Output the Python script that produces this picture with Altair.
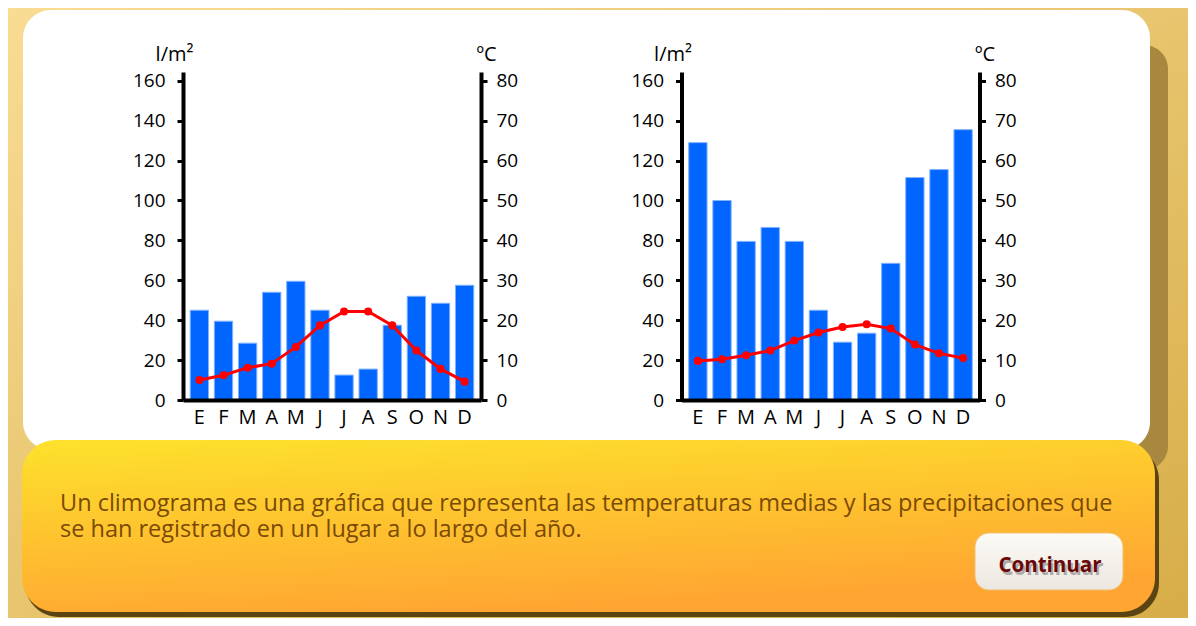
import altair as alt
import pandas as pd

meses = ["Enero", "Febrero", "Marzo", "Abril", "Mayo", "Junio", "Julio",
         "Agosto", "Septiembre", "Octubre", "Noviembre", "Diciembre"]

prec_1 = [45, 39.5, 28.5, 54, 59.5, 45, 12.5, 15.5, 37.5, 52, 48.5, 57.5]
temp_1 = [5, 6.2, 8.1, 9.1, 13.3, 18.7, 22.2, 22.2, 18.7, 12.4, 7.8, 4.6]

prec_2 = [129, 100, 79.5, 86.5, 79.5, 45, 29, 33.5, 68.5, 111.5, 115.5, 135.5]
temp_2 = [9.8, 10.2, 11.2, 12.4, 14.9, 16.9, 18.3, 19, 17.9, 13.9, 11.7, 10.5]

prec_ticks = [0, 20, 40, 60, 80, 100, 120, 140, 160]
temp_ticks = [0, 10, 20, 30, 40, 50, 60, 70, 80]

caption = ["Un climograma es una gráfica que representa las temperaturas medias y las precipitaciones que",
           "se han registrado en un lugar a lo largo del año."]
button_text = "Continuar"

FONT = "Open Sans"
W, H = 298, 328


def climograma(prec, temp):
    df = pd.DataFrame({"mes": meses, "prec": prec, "temp": temp})
    x = alt.X("mes:N", sort=meses,
              scale=alt.Scale(paddingInner=0.24, paddingOuter=0.3),
              axis=alt.Axis(title=None, labelAngle=0, ticks=False, tickSize=0,
                            labelExpr="substring(datum.label, 0, 1)",
                            labelPadding=7, labelFontSize=20, zindex=1))
    bars = alt.Chart(df).mark_bar(color="#0066ff", stroke="#80b3ff", strokeWidth=1).encode(
        x=x,
        y=alt.Y("prec:Q", scale=alt.Scale(domain=[0, 164.4], nice=False),
                axis=alt.Axis(orient="left", values=prec_ticks, title="l/m²",
                              titleAngle=0, titleX=-9, titleY=-12, titleAlign="center",
                              titleBaseline="alphabetic", labelPadding=12, zindex=1)),
    )
    line = alt.Chart(df).mark_line(
        color="#ff0000", strokeWidth=3,
        point=alt.OverlayMarkDef(color="#ff0000", size=65, filled=True, opacity=1),
    ).encode(
        x=x,
        y=alt.Y("temp:Q", scale=alt.Scale(domain=[0, 82.2], nice=False),
                axis=alt.Axis(orient="right", values=temp_ticks, title="ºC",
                              titleAngle=0, titleX=5, titleY=-12, titleAlign="center",
                              titleBaseline="alphabetic", labelPadding=9, zindex=1)),
    )
    return bars, line


dummy = pd.DataFrame({"k": [0]})


def deco_rect(x1, x2, y1, y2, **kw):
    return alt.Chart(dummy).mark_rect(**kw).encode(
        x=alt.value(x1), x2=alt.value(x2), y=alt.value(y1), y2=alt.value(y2))


bg = deco_rect(-175, 1005, -64, 546, fill=alt.LinearGradient(
    gradient="linear", x1=0, y1=0, x2=1, y2=1,
    stops=[alt.GradientStop(offset=0, color="#f9dc93"),
           alt.GradientStop(offset=1, color="#d6ad48")]))
shadow_strip = deco_rect(937, 985, -27, 398, fill="#a8883f", cornerRadius=26)
white_panel = deco_rect(-160, 967, -62, 378, fill="#ffffff", cornerRadius=28)
yellow_shadow = deco_rect(-158, 976, 374, 545, fill="#5a4512", cornerRadius=34)
yellow_box = deco_rect(-161, 972, 368, 540, cornerRadius=34, fill=alt.LinearGradient(
    gradient="linear", x1=0, y1=0, x2=0.35, y2=1,
    stops=[alt.GradientStop(offset=0, color="#fde22c"),
           alt.GradientStop(offset=1, color="#ffa632")]))
caption_text = alt.Chart(dummy).mark_text(
    align="left", baseline="alphabetic", font=FONT, fontSize=23.5,
    color="#7a4a05", lineHeight=26).encode(
    x=alt.value(-123), y=alt.value(439), text=alt.value(caption))
button = deco_rect(792, 940, 461, 518, cornerRadius=14, stroke="#efc070", strokeWidth=1,
                   fill=alt.LinearGradient(
                       gradient="linear", x1=0, y1=0, x2=0, y2=1,
                       stops=[alt.GradientStop(offset=0, color="#fdfbf7"),
                              alt.GradientStop(offset=1, color="#ece7df")]))
button_shadow = alt.Chart(dummy).mark_text(
    align="center", baseline="alphabetic", font=FONT, fontSize=20.5, fontWeight="bold",
    color="#9a9a9a", opacity=0.8).encode(
    x=alt.value(869), y=alt.value(503), text=alt.value(button_text))
button_label = alt.Chart(dummy).mark_text(
    align="center", baseline="alphabetic", font=FONT, fontSize=20.5, fontWeight="bold",
    color="#6a0808").encode(
    x=alt.value(867), y=alt.value(500), text=alt.value(button_text))

b1, l1 = climograma(prec_1, temp_1)
b2, l2 = climograma(prec_2, temp_2)

left = alt.layer(bg, shadow_strip, white_panel, yellow_shadow, yellow_box,
                 caption_text, button, button_shadow, button_label, b1, l1
                 ).resolve_scale(y="independent").properties(width=W, height=H)
right = alt.layer(b2, l2).resolve_scale(y="independent").properties(width=W, height=H)

chart = alt.hconcat(left, right, spacing=200.5, bounds="flush").properties(
    padding=0
).configure_view(strokeWidth=0).configure_axis(
    grid=False, domainColor="#000000", domainWidth=4, tickColor="#000000",
    tickWidth=3, tickSize=6, labelFont=FONT, labelFontSize=19, labelColor="#000000",
    titleFont=FONT, titleFontSize=20, titleFontWeight="normal", titleColor="#000000"
)

chart.save("out.html", embed_options={"renderer": "svg", "actions": False})
